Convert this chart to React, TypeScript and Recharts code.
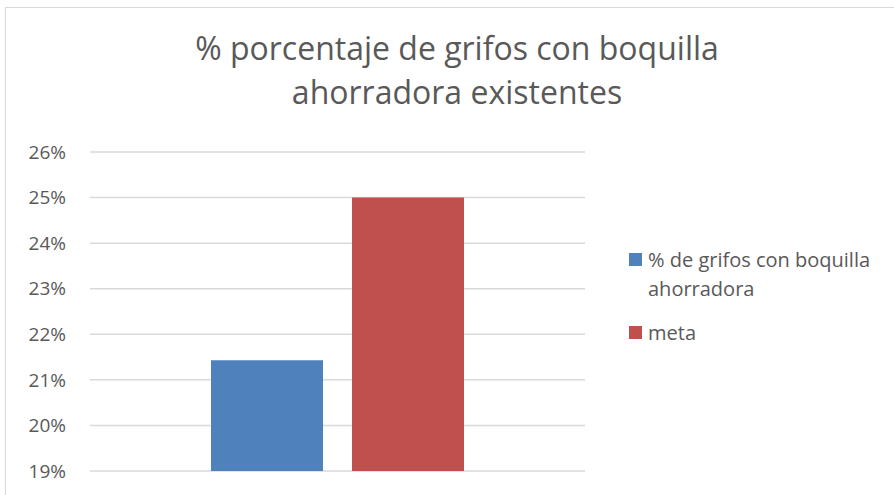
import { BarChart, Bar, XAxis, YAxis, CartesianGrid } from "recharts";

const categories = ["grifos"];
const actualValues = [0.2143];
const targetValues = [0.25];
const seriesNames = ["% de grifos con boquilla ahorradora", "meta"];
const seriesColors = ["#4F81BD", "#C0504D"];
const yTicks = [0.19, 0.2, 0.21, 0.22, 0.23, 0.24, 0.25, 0.26];
const titleLines = ["% porcentaje de grifos con boquilla", "ahorradora existentes"];

const data = categories.map((name, i) => ({
  name,
  actual: actualValues[i],
  target: targetValues[i],
}));

const font = "'Open Sans', 'Liberation Sans', sans-serif";

function LegendBox() {
  return (
    <div style={{ fontFamily: font, fontSize: 20, color: "#595959", lineHeight: "29px" }}>
      {seriesNames.map((n, i) => (
        <div key={n} style={{ display: "flex", alignItems: "flex-start", marginBottom: 15 }}>
          <span
            style={{
              display: "inline-block",
              width: 13,
              height: 13,
              background: seriesColors[i],
              marginTop: 8,
              marginRight: 6,
              flex: "none",
            }}
          />
          <span style={{ width: 240 }}>{n}</span>
        </div>
      ))}
    </div>
  );
}

export default function App() {
  return (
    <div style={{ position: "absolute", left: 0, top: 0, width: 894, height: 495, background: "#fff", overflow: "hidden" }}>
      <div style={{ position: "absolute", left: 5, top: 7, width: 900, height: 500, border: "1px solid #D9D9D9" }} />
      <div
        style={{
          position: "absolute",
          left: 0,
          top: 26,
          width: 914,
          textAlign: "center",
          fontFamily: font,
          fontSize: 32,
          lineHeight: "44px",
          color: "#595959",
        }}
      >
        {titleLines.map((t) => (
          <div key={t}>{t}</div>
        ))}
      </div>
      <div style={{ position: "absolute", left: 0, top: 0 }}>
        <BarChart
          width={894}
          height={495}
          data={data}
          margin={{ top: 152, right: 309, bottom: 24, left: 0 }}
          barSize={112}
          barGap={29}
        >
          <CartesianGrid vertical={false} stroke="#D9D9D9" strokeWidth={1.5} />
          <XAxis dataKey="name" tick={false} axisLine={false} tickLine={false} height={0} />
          <YAxis
            width={90}
            domain={[0.19, 0.26]}
            ticks={yTicks}
            allowDataOverflow
            axisLine={false}
            tickLine={false}
            tickMargin={18}
            tickFormatter={(v: number) => `${Math.round(v * 100)}%`}
            tick={{ fill: "#595959", fontSize: 19, fontFamily: font }}
          />
          <Bar dataKey="actual" name={seriesNames[0]} fill={seriesColors[0]} isAnimationActive={false} />
          <Bar dataKey="target" name={seriesNames[1]} fill={seriesColors[1]} isAnimationActive={false} />
        </BarChart>
      </div>
      <div style={{ position: "absolute", left: 629, top: 245 }}>
        <LegendBox />
      </div>
    </div>
  );
}
